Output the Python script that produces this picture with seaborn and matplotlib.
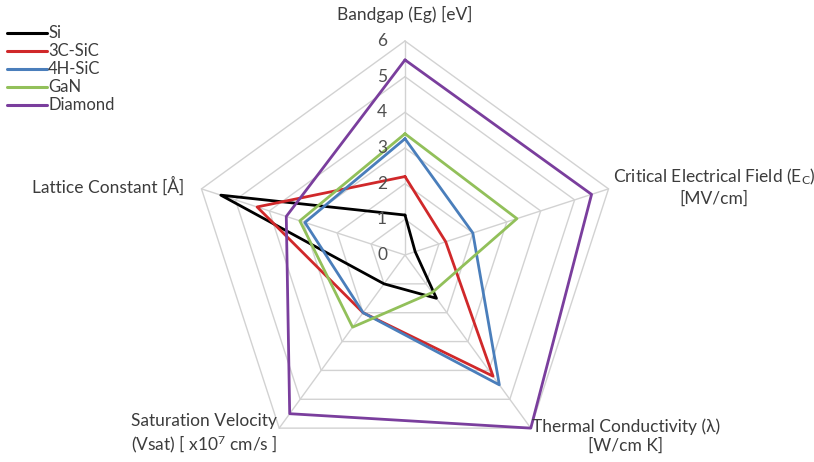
import numpy as np
import pandas as pd
import matplotlib
matplotlib.use("Agg")
import matplotlib.pyplot as plt
from matplotlib.lines import Line2D
import seaborn as sns

# Property axes, clockwise from the top
properties = [
    "Bandgap (Eg) [eV]",
    "Critical Electrical Field (E$_\\mathregular{C}$)\n[MV/cm]",
    "Thermal Conductivity (λ)\n[W/cm K]",
    "Saturation Velocity\n(Vsat) [ x10$^\\mathregular{7}$ cm/s ]",
    "Lattice Constant [Å]",
]
materials = ["Si", "3C-SiC", "4H-SiC", "GaN", "Diamond"]

# Values per material, in the order of the property axes
si = [1.12, 0.30, 1.50, 1.00, 5.43]
sic_3c = [2.20, 1.20, 4.20, 2.00, 4.36]
sic_4h = [3.26, 2.00, 4.50, 2.00, 2.95]
gan = [3.40, 3.30, 1.30, 2.50, 3.10]
diamond = [5.47, 5.50, 6.00, 5.50, 3.50]

radial_ticks = [0, 1, 2, 3, 4, 5, 6]

colors = ["#000000", "#D0282A", "#4A7EBB", "#92C05A", "#7A3E9D"]

sns.set_style("white")
plt.rcParams["font.family"] = ["Lato", "DejaVu Sans"]
plt.rcParams["mathtext.default"] = "regular"

W, H = 814, 462
fig = plt.figure(figsize=(W / 100, H / 100), dpi=100)

cx, cy, R = 405, 255, 214
ax = fig.add_axes([(cx - R) / W, (H - cy - R) / H, 2 * R / W, 2 * R / H],
                  projection="polar")
ax.set_theta_zero_location("N")
ax.set_theta_direction(-1)

n = len(properties)
angles = np.arange(n) * 2 * np.pi / n
closed = np.append(angles, angles[0])

# Pentagon grid and spokes
grid_col = "#D2D2D2"
for r in radial_ticks[1:]:
    ax.plot(closed, [r] * (n + 1), color=grid_col, lw=1.0, zorder=1, clip_on=False)
for a in angles:
    ax.plot([a, a], [0, radial_ticks[-1]], color=grid_col, lw=1.0, zorder=1, clip_on=False)

# Series
series = [si, sic_3c, sic_4h, gan, diamond]
rows = []
for name, vals in zip(materials, series):
    for i, a in enumerate(closed):
        rows.append({"material": name, "theta": a, "value": vals[i % n]})
df = pd.DataFrame(rows)

sns.lineplot(data=df, x="theta", y="value", hue="material", hue_order=materials,
             palette=dict(zip(materials, colors)), units="material", estimator=None,
             sort=False, lw=2.0, ax=ax, legend=False, clip_on=False, zorder=3)

ax.set_ylim(0, radial_ticks[-1])
ax.grid(False)
ax.spines["polar"].set_visible(False)
ax.set_xticks([])
ax.set_yticks([])
ax.set_xlabel("")
ax.set_ylabel("")
ax.patch.set_alpha(0)

txt_col = "#3C3C3C"

# Radial tick labels along the top axis
unit = R / radial_ticks[-1]
for t in radial_ticks:
    fig.text(382 / W, 1 - (cy - t * unit) / H, str(t), ha="center", va="center",
             fontsize=12.5, color="#505050")

# Property labels
fs = 12.5
label_pos = [
    (405, 14, "center"),
    (714, 187, "center"),
    (626, 436, "center"),
    (204, 434, "center"),
    (108, 186, "center"),
]
for text, (x, y, ha) in zip(properties, label_pos):
    fig.text(x / W, 1 - y / H, text, ha=ha, va="center", fontsize=fs,
             color=txt_col, linespacing=1.25, multialignment="center")

# Legend
handles = [Line2D([0], [0], color=c, lw=2.2) for c in colors]
fig.legend(handles, materials, loc="upper left", bbox_to_anchor=(0.008, 0.945),
           frameon=False, fontsize=12, handlelength=2.4, handletextpad=0.1,
           labelspacing=0.12, labelcolor=txt_col, borderaxespad=0,
           borderpad=0)

fig.savefig("out.png", dpi=100)
